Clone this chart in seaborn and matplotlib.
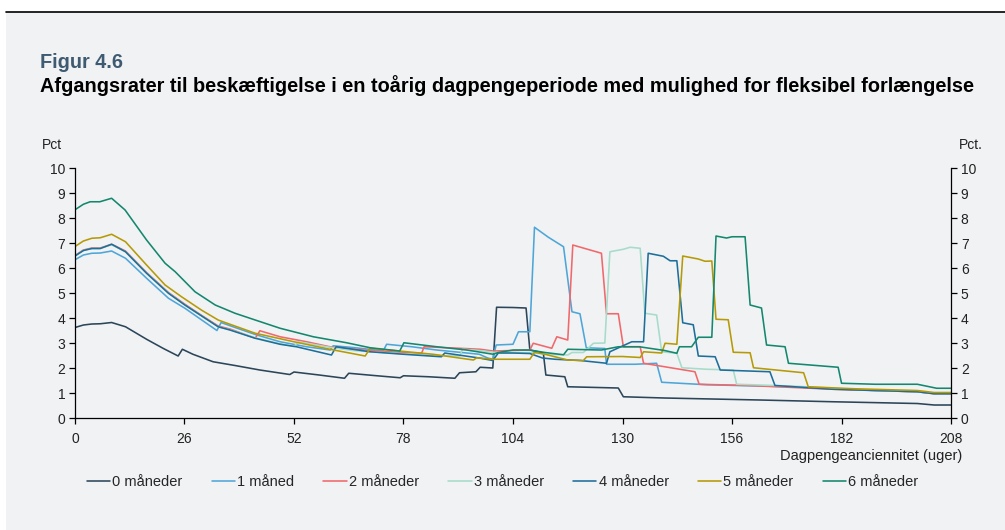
import pandas as pd
import matplotlib
matplotlib.use("Agg")
import matplotlib.pyplot as plt
from matplotlib.lines import Line2D
from matplotlib.patches import Rectangle
import seaborn as sns

# serier (uge, afgangsrate i pct.) aflaest fra figuren
labels = ["0 måneder", "1 måned", "2 måneder", "3 måneder",
          "4 måneder", "5 måneder", "6 måneder"]
colors = ["#2b4559", "#4ea6d8", "#f0686b", "#a6dcc9",
          "#1d6e9a", "#b59a06", "#14876f"]

uger_0 = [0, 2, 4, 6, 8.7, 12, 17, 21, 24.5, 25.5, 28, 32.8, 38, 43.9, 51, 52,
          58, 64, 65, 71, 77.2, 78, 84, 90.2, 91.3, 95.2, 96.2, 99.2, 100.1,
          104, 107.1, 108, 111.2, 111.8, 116.3, 117, 129, 130.2, 140, 162.7,
          180, 200, 204, 208]
rate_0 = [3.62, 3.72, 3.76, 3.77, 3.82, 3.65, 3.15, 2.78, 2.48, 2.75, 2.55,
          2.25, 2.1, 1.92, 1.74, 1.84, 1.72, 1.59, 1.79, 1.7, 1.61, 1.69, 1.65,
          1.59, 1.81, 1.85, 2.03, 2.0, 4.43, 4.42, 4.4, 2.72, 2.6, 1.72, 1.65,
          1.25, 1.2, 0.85, 0.8, 0.72, 0.65, 0.58, 0.52, 0.52]

uger_1 = [0, 2, 4, 6, 8.7, 12, 17, 22.2, 26.1, 30.1, 33.7, 34.7, 37, 43, 48.7,
          55, 60.6, 61.3, 66, 73.2, 74, 80, 85.9, 96, 98, 99.2, 100, 104,
          105.3, 108, 109.1, 112.4, 116, 118, 119.9, 121.4, 125.8, 126.2, 133,
          138.1, 139.3, 150, 170, 190, 200, 204, 208]
rate_1 = [6.33, 6.52, 6.59, 6.6, 6.68, 6.39, 5.59, 4.79, 4.39, 3.92, 3.5, 3.82,
          3.68, 3.33, 3.05, 2.85, 2.72, 2.89, 2.82, 2.69, 2.95, 2.85, 2.72,
          2.55, 2.4, 2.35, 2.92, 2.95, 3.45, 3.45, 7.63, 7.23, 6.85, 4.25, 4.17,
          2.81, 2.78, 2.15, 2.15, 2.19, 1.43, 1.33, 1.25, 1.1, 1.05, 0.98, 0.98]

uger_2 = [0, 2, 4, 6, 8.7, 12, 17, 22.2, 26.1, 30.1, 34, 37, 42.8, 43.9, 48.7,
          55, 60.5, 62, 70, 78, 82.3, 82.9, 90, 96.2, 99.3, 104, 108, 108.8,
          113.2, 114.4, 117, 118.2, 125, 126.2, 129, 130.2, 134.2, 135, 147.2,
          148.2, 160, 180, 200, 204, 208]
rate_2 = [6.5, 6.72, 6.8, 6.8, 6.95, 6.68, 5.82, 5.02, 4.55, 4.1, 3.68, 3.55,
          3.19, 3.49, 3.25, 3.05, 2.85, 2.82, 2.7, 2.62, 2.59, 2.85, 2.8, 2.75,
          2.68, 2.7, 2.72, 2.99, 2.79, 3.25, 3.12, 6.92, 6.59, 4.17, 4.17, 2.85,
          2.85, 2.19, 1.85, 1.35, 1.3, 1.15, 1.05, 0.97, 0.97]

uger_3 = [0, 2, 4, 6, 8.7, 12, 17, 22.2, 26.1, 30.1, 34, 37, 43, 48, 52, 53,
          60.5, 66, 70, 78, 86, 91.4, 92, 96, 100, 104, 108, 112, 117, 118,
          120.7, 123.1, 125.8, 127, 130.2, 131.8, 134.2, 135.3, 138.1, 139.3,
          142.9, 144.1, 150, 156.3, 157.1, 170, 190, 200, 204, 208]
rate_3 = [6.48, 6.7, 6.78, 6.78, 6.93, 6.65, 5.8, 5.0, 4.52, 4.08, 3.65, 3.52,
          3.2, 3.0, 2.86, 3.05, 2.83, 2.7, 2.65, 2.57, 2.5, 2.48, 2.75, 2.7,
          2.62, 2.6, 2.62, 2.55, 2.52, 2.62, 2.62, 2.99, 3.0, 6.65, 6.75, 6.83,
          6.79, 4.19, 4.12, 2.65, 2.59, 2.01, 1.95, 1.92, 1.35, 1.28, 1.1, 1.05,
          0.98, 0.98]

uger_4 = [0, 2, 4, 6, 8.7, 12, 17, 22.2, 26.1, 30.1, 34, 36.8, 42.8, 48.7,
          52.6, 60.9, 62, 66, 70, 78, 87, 87.8, 96, 99.2, 100.5, 104, 108, 111,
          114, 120, 126.2, 127, 132.2, 135, 136.1, 139.7, 141.3, 142.9, 144.3,
          146.8, 148, 152, 153.2, 165, 166.2, 180, 200, 204, 208]
rate_4 = [6.48, 6.7, 6.78, 6.78, 6.95, 6.65, 5.79, 4.99, 4.52, 4.08, 3.65,
          3.52, 3.19, 2.95, 2.85, 2.52, 2.85, 2.75, 2.65, 2.55, 2.45, 2.6, 2.4,
          2.3, 2.6, 2.6, 2.58, 2.4, 2.35, 2.3, 2.19, 2.65, 3.05, 3.05, 6.59,
          6.47, 6.29, 6.29, 3.81, 3.73, 2.48, 2.45, 1.92, 1.85, 1.3, 1.15, 1.05,
          0.97, 0.97]

uger_5 = [0, 2, 4, 6, 8.7, 12, 17, 21.4, 25.3, 30, 34, 36.8, 42.8, 44.7, 52,
          60.5, 68.9, 70.1, 77, 85, 94.6, 95.4, 99.3, 104, 108, 109.1, 111.6,
          117, 120.7, 121.5, 130, 134.2, 135, 139.3, 140.1, 142.9, 144.3, 148,
          149.6, 151.2, 152.2, 155.1, 156.3, 160.3, 161.1, 173, 174.1, 185,
          200, 204, 208]
rate_5 = [6.86, 7.08, 7.19, 7.21, 7.35, 7.05, 6.12, 5.32, 4.85, 4.32, 3.92,
          3.75, 3.39, 3.32, 3.05, 2.75, 2.48, 2.79, 2.68, 2.55, 2.32, 2.41,
          2.35, 2.35, 2.35, 2.63, 2.55, 2.32, 2.3, 2.45, 2.46, 2.42, 2.65, 2.6,
          2.99, 2.95, 6.48, 6.36, 6.27, 6.28, 3.95, 3.93, 2.63, 2.61, 2.01,
          1.81, 1.25, 1.17, 1.1, 1.02, 1.02]

uger_6 = [0, 2, 3.6, 5.9, 8.7, 11.9, 17, 21.4, 23.8, 28.5, 33.3, 38, 42.8,
          48.7, 56.6, 64.5, 70.1, 77.1, 78.1, 85.9, 93, 99.3, 100.5, 104, 108,
          111.6, 116, 117, 125, 129, 134, 140, 142.9, 143.5, 146.4, 148, 151.2,
          152.2, 154.7, 156, 159.1, 160.3, 163, 164.2, 168.6, 169.4, 181.2,
          182, 190, 200, 204.6, 208]
rate_6 = [8.33, 8.55, 8.65, 8.65, 8.79, 8.32, 7.12, 6.19, 5.85, 5.05, 4.52,
          4.19, 3.92, 3.59, 3.25, 3.01, 2.81, 2.68, 3.01, 2.85, 2.72, 2.55,
          2.62, 2.72, 2.72, 2.62, 2.53, 2.75, 2.72, 2.85, 2.85, 2.7, 2.59, 2.85,
          2.85, 3.23, 3.23, 7.28, 7.2, 7.25, 7.25, 4.52, 4.4, 2.92, 2.85, 2.19,
          2.03, 1.39, 1.35, 1.35, 1.19, 1.19]

uger = [uger_0, uger_1, uger_2, uger_3, uger_4, uger_5, uger_6]
rater = [rate_0, rate_1, rate_2, rate_3, rate_4, rate_5, rate_6]

xticks = [0, 26, 52, 78, 104, 130, 156, 182, 208]
yticks = list(range(0, 11))

bg = "#f1f2f4"
sns.set_theme(style="white")
plt.rcParams["font.family"] = ["Liberation Sans", "DejaVu Sans"]

df = pd.concat([pd.DataFrame({"uge": u, "rate": r, "serie": lab})
                for lab, u, r in zip(labels, uger, rater)], ignore_index=True)

fig = plt.figure(figsize=(10.05, 5.30), dpi=100, facecolor="white")
fig.patches.append(Rectangle((0.006, 0), 0.994, 0.977, transform=fig.transFigure,
                             facecolor=bg, edgecolor="none", zorder=-10))
fig.add_artist(Line2D([0.006, 1], [0.977, 0.977], transform=fig.transFigure,
                      color="black", lw=1.2))

fig.text(0.040, 0.8723, "Figur 4.6", fontsize=14.3, fontweight="bold",
         color="#3e5b71", va="baseline")
fig.text(0.040, 0.827, "Afgangsrater til beskæftigelse i en toårig dagpengeperiode "
         "med mulighed for fleksibel forlængelse", fontsize=14.3,
         fontweight="bold", color="black", va="baseline")

ax = fig.add_axes([0.0746, 0.2113, 0.8717, 0.4717])
ax.set_facecolor(bg)
sns.lineplot(data=df, x="uge", y="rate", hue="serie", hue_order=labels,
             palette=dict(zip(labels, colors)), estimator=None, sort=False,
             linewidth=1.15, legend=False, ax=ax)

ax.set_xlim(0, 208)
ax.set_ylim(0, 10)
ax.set_xticks(xticks)
ax.set_yticks(yticks)
ax.set_xlabel("")
ax.set_ylabel("")
for s in ["top", "right"]:
    ax.spines[s].set_visible(False)
for s in ["left", "bottom"]:
    ax.spines[s].set_color("black")
    ax.spines[s].set_linewidth(0.9)
ax.tick_params(axis="both", which="major", direction="out", length=4, width=0.9,
               color="black", labelsize=10, labelcolor="#222222", pad=3,
               bottom=True, left=True)
ax.tick_params(axis="x", pad=6)

ax2 = ax.twinx()
ax2.set_ylim(0, 10)
ax2.set_yticks(yticks)
for s in ["top", "left", "bottom"]:
    ax2.spines[s].set_visible(False)
ax2.spines["right"].set_color("black")
ax2.spines["right"].set_linewidth(0.9)
ax2.tick_params(axis="y", direction="out", length=4, width=0.9, color="black",
                labelsize=10, labelcolor="#222222", pad=3, right=True)

fig.text(0.042, 0.726, "Pct", fontsize=10, color="#222222", va="center")
fig.text(0.978, 0.726, "Pct.", fontsize=10, color="#222222", va="center",
         ha="right")
fig.text(0.957, 0.14, "Dagpengeanciennitet (uger)", fontsize=10.5,
         color="#222222", va="center", ha="right")

handles = [Line2D([], [], color=c, lw=1.15) for c in colors]
fig.legend(handles, labels, loc="center", bbox_to_anchor=(0.5, 0.09), ncol=7,
           frameon=False, fontsize=10.5, handlelength=1.6, handletextpad=0.15,
           columnspacing=2.0)

fig.savefig("out.png", dpi=100, facecolor=fig.get_facecolor())
